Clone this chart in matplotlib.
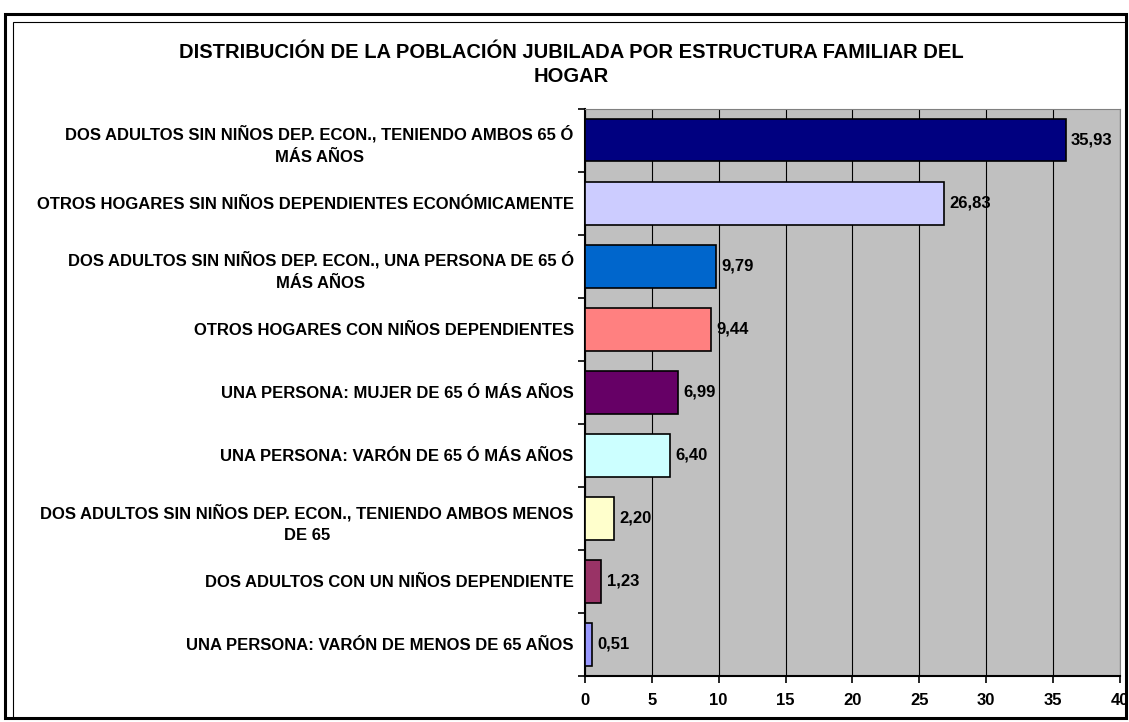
import matplotlib.pyplot as plt
import numpy as np
from matplotlib.patches import Rectangle

plt.rcParams['font.family'] = ['Liberation Sans', 'DejaVu Sans']

categories = [
    "DOS ADULTOS SIN NIÑOS DEP. ECON., TENIENDO AMBOS 65 Ó\nMÁS AÑOS",
    "OTROS HOGARES SIN NIÑOS DEPENDIENTES ECONÓMICAMENTE",
    "DOS ADULTOS SIN NIÑOS DEP. ECON., UNA PERSONA DE 65 Ó\nMÁS AÑOS",
    "OTROS HOGARES CON NIÑOS DEPENDIENTES",
    "UNA PERSONA: MUJER DE 65 Ó MÁS AÑOS",
    "UNA PERSONA: VARÓN DE 65 Ó MÁS AÑOS",
    "DOS ADULTOS SIN NIÑOS DEP. ECON., TENIENDO AMBOS MENOS\nDE 65",
    "DOS ADULTOS CON UN NIÑOS DEPENDIENTE",
    "UNA PERSONA: VARÓN DE MENOS DE 65 AÑOS",
]
values = [35.93, 26.83, 9.79, 9.44, 6.99, 6.40, 2.20, 1.23, 0.51]
colors = ['#000080', '#CCCCFF', '#0066CC', '#FF8080', '#660066',
          '#CCFFFF', '#FFFFCC', '#993366', '#9999FF']
xticks = [0, 5, 10, 15, 20, 25, 30, 35, 40]

fig = plt.figure(figsize=(11.29, 7.22), dpi=100)
ax = fig.add_axes([0.518, 0.0637, 0.474, 0.786])

# outer frames
fig.patches.append(Rectangle((5 / 1129, 4 / 722), 1121 / 1129, 704 / 722,
                             transform=fig.transFigure, fill=False, ec='black', lw=2.2))
fig.patches.append(Rectangle((13 / 1129, 4 / 722), 1113 / 1129, 696 / 722,
                             transform=fig.transFigure, fill=False, ec='black', lw=0.8))

y = np.arange(len(values))
ax.barh(y, values, height=0.68, color=colors, edgecolor='black', linewidth=1.2, zorder=3)
ax.set_facecolor('#C0C0C0')
ax.set_xlim(0, 40)
ax.set_ylim(len(values) - 0.5, -0.5)
ax.set_xticks(xticks)
ax.set_xticklabels([str(t) for t in xticks], fontsize=12, fontweight='bold')
ax.xaxis.grid(True, color='black', linewidth=0.8, zorder=1)
ax.set_axisbelow(True)

ax.set_yticks(y)
ax.set_yticklabels(categories, fontsize=12, fontweight='bold', multialignment='center',
                   linespacing=1.6)
ax.tick_params(axis='y', length=0, pad=8)
ax.set_yticks(np.arange(len(values) + 1) - 0.5, minor=True)
ax.tick_params(axis='y', which='minor', length=5, width=1.2)
ax.tick_params(axis='x', length=5, width=1.2, pad=7)

for s in ['top', 'right']:
    ax.spines[s].set_color('#808080')
    ax.spines[s].set_linewidth(0.8)
for s in ['left', 'bottom']:
    ax.spines[s].set_linewidth(1.5)

for yi, v in zip(y, values):
    ax.text(v + 0.4, yi, f"{v:.2f}".replace('.', ','), va='center', ha='left',
            fontsize=12, fontweight='bold', zorder=4)

fig.text(0.506, 0.911, "DISTRIBUCIÓN DE LA POBLACIÓN JUBILADA POR ESTRUCTURA FAMILIAR DEL\nHOGAR",
         ha='center', va='center', fontsize=14.5, fontweight='bold', linespacing=1.35)

fig.savefig('out.png', dpi=100)
